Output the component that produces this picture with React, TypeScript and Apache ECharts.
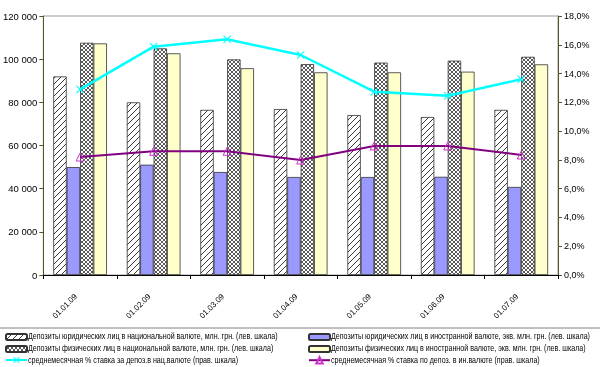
import React, { useEffect, useRef } from "react";
import * as echarts from "echarts";

const categories = ["01.01.09", "01.02.09", "01.03.09", "01.04.09", "01.05.09", "01.06.09", "01.07.09"];
const legalNational = [92000, 80000, 76500, 76900, 74100, 73200, 76500];
const legalForeign = [50000, 51100, 47700, 45400, 45400, 45500, 40800];
const physNational = [107600, 105000, 99900, 97700, 98400, 99300, 101100];
const physForeign = [107300, 102700, 95800, 93900, 93900, 94200, 97600];
const rateNational = [12.9, 15.87, 16.38, 15.29, 12.74, 12.46, 13.6];
const rateForeign = [8.2, 8.6, 8.6, 7.99, 8.97, 8.97, 8.34];

const names = [
  "Депозиты юридических лиц в национальной валюте, млн. грн. (лев. шкала)",
  "Депозиты юридических лиц в иностранной валюте, экв. млн. грн. (лев. шкала)",
  "Депозиты физических лиц в национальной валюте, млн. грн. (лев. шкала)",
  "Депозиты физических лиц в иностранной валюте, экв. млн. грн. (лев. шкала)",
  "среднемесячная % ставка за депоз.в нац.валюте (прав. шкала)",
  "среднемесячная % ставка по депоз. в ин.валюте (прав. шкала)",
];

const FONT = "'Liberation Sans', Arial, sans-serif";

function makePattern(kind: "diag" | "cross") {
  const size = kind === "diag" ? 6 : 4;
  const c = document.createElement("canvas");
  c.width = size;
  c.height = size;
  const ctx = c.getContext("2d")!;
  ctx.fillStyle = "#ffffff";
  ctx.fillRect(0, 0, size, size);
  ctx.strokeStyle = kind === "diag" ? "#3a3a3a" : "#5a5a5a";
  ctx.lineWidth = 1;
  const line = (x1: number, y1: number, x2: number, y2: number) => {
    ctx.beginPath();
    ctx.moveTo(x1, y1);
    ctx.lineTo(x2, y2);
    ctx.stroke();
  };
  line(-1, size + 1, size + 1, -1);
  line(-1, 1, 1, -1);
  line(size - 1, size + 1, size + 1, size - 1);
  if (kind === "cross") {
    line(-1, -1, size + 1, size + 1);
    line(size - 1, -1, size + 1, 1);
    line(-1, size - 1, 1, size + 1);
  }
  return { image: c, repeat: "repeat", imageWidth: size, imageHeight: size } as any;
}

const fmtThousands = (v: number) => String(Math.round(v)).replace(/\B(?=(\d{3})+(?!\d))/g, " ");

export default function App() {
  const ref = useRef<HTMLDivElement>(null);
  useEffect(() => {
    if (!ref.current) return;
    const chart = echarts.init(ref.current, null, { renderer: "svg" });
    const diag = makePattern("diag");
    const cross = makePattern("cross");
    const barBorder = { borderColor: "#333333", borderWidth: 0.8 };
    const xSymbol = "path://M0,1L1,0L5,4L9,0L10,1L6,5L10,9L9,10L5,6L1,10L0,9L4,5Z";
    const rowsY = [336, 348, 360];
    const leftCol = [names[0], names[2], names[4]];
    const rightCol = [names[1], names[3], names[5]];
    const legends: any[] = [];
    const legendTexts: any[] = [];
    const addItem = (name: string, col: number, row: number) => {
      const iconX = col === 0 ? 5 : 308;
      const textX = col === 0 ? 28 : 331;
      const isLine = name.startsWith("среднемесячная");
      const h = isLine ? 8 : 6;
      legends.push({
        left: iconX,
        top: rowsY[row] - h / 2,
        itemWidth: 21,
        itemHeight: h,
        padding: 0,
        selectedMode: false,
        formatter: () => "",
        textStyle: { fontSize: 1 },
        data: [name],
      });
      legendTexts.push({
        type: "text", x: textX, y: rowsY[row], scaleX: 0.79,
        style: { text: name, fontFamily: FONT, fontSize: 9, fill: "#000", verticalAlign: "middle", align: "left" },
      });
    };
    leftCol.forEach((n, i) => addItem(n, 0, i));
    rightCol.forEach((n, i) => addItem(n, 1, i));
    chart.setOption({
      animation: false,
      grid: { left: 42, right: 42, top: 16, bottom: 92, show: true, borderColor: "#9a9a9a", borderWidth: 1 },
      legend: legends,
      xAxis: {
        type: "category",
        data: categories,
        axisLine: { lineStyle: { color: "#000", width: 1 } },
        axisTick: { show: true, length: 4, lineStyle: { color: "#000" } },
        axisLabel: { rotate: 45, fontFamily: FONT, fontSize: 8, color: "#000", margin: 16, padding: [0, 6, 0, 0] },
      },
      yAxis: [
        {
          type: "value",
          min: 0,
          max: 120000,
          interval: 20000,
          splitLine: { show: false },
          axisLine: { show: true, lineStyle: { color: "#55552a", width: 1 } },
          axisTick: { show: true, length: 4, lineStyle: { color: "#55552a" } },
          axisLabel: { fontFamily: FONT, fontSize: 9.5, color: "#000", formatter: (v: number) => fmtThousands(v), margin: 6 },
        },
        {
          type: "value",
          min: 0,
          max: 18,
          interval: 2,
          position: "right",
          splitLine: { show: false },
          axisLine: { show: true, lineStyle: { color: "#55552a", width: 1 } },
          axisTick: { show: true, length: 4, lineStyle: { color: "#55552a" } },
          axisLabel: {
            fontFamily: FONT,
            fontSize: 9,
            color: "#000",
            margin: 6,
            formatter: (v: number) => v.toFixed(1).replace(".", ",") + "%",
          },
        },
      ],
      series: [
        {
          name: names[0], type: "bar", data: legalNational, barGap: "0%", barCategoryGap: "27%",
          itemStyle: { color: diag, ...barBorder },
        },
        { name: names[1], type: "bar", data: legalForeign, itemStyle: { color: "#9999ff", ...barBorder } },
        { name: names[2], type: "bar", data: physNational, itemStyle: { color: cross, ...barBorder } },
        { name: names[3], type: "bar", data: physForeign, itemStyle: { color: "#ffffcc", ...barBorder } },
        {
          name: names[4], type: "line", yAxisIndex: 1, data: rateNational,
          symbol: xSymbol, symbolSize: 8,
          lineStyle: { color: "#00ffff", width: 2.5 },
          itemStyle: { color: "#00ffff" },
        },
        {
          name: names[5], type: "line", yAxisIndex: 1, data: rateForeign,
          symbol: "triangle", symbolSize: 8,
          lineStyle: { color: "#800080", width: 2 },
          itemStyle: { color: "rgba(255,255,255,0)", borderColor: "#cc33cc", borderWidth: 1 },
        },
      ],
      graphic: [
        { type: "line", shape: { x1: 0, y1: 328, x2: 600, y2: 328 }, style: { stroke: "#808080", lineWidth: 1 } },
        ...legendTexts,
      ],
    });
    return () => chart.dispose();
  }, []);
  return <div ref={ref} style={{ position: "fixed", left: 0, top: 0, width: 600, height: 367 }} />;
}
